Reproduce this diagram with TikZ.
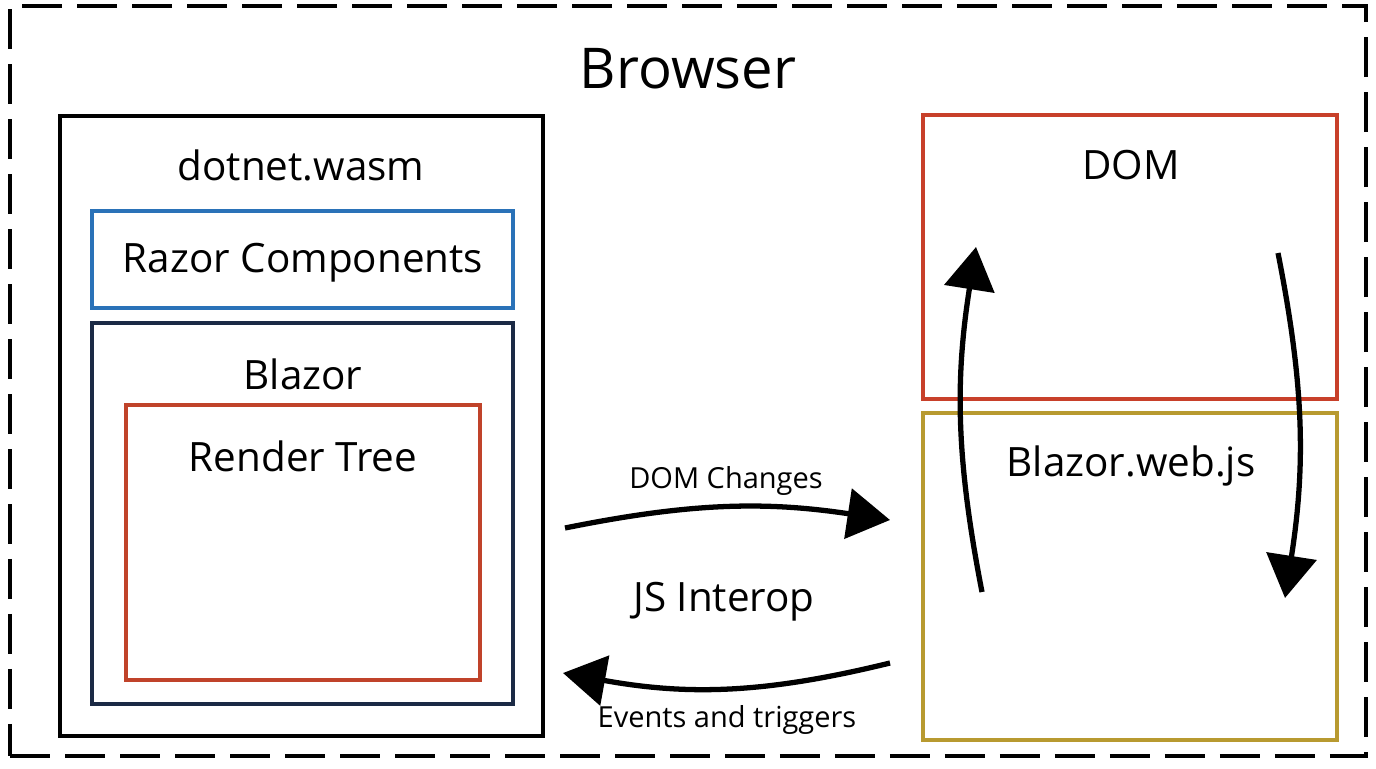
\documentclass[tikz,border=0pt]{standalone}
\usepackage{fontspec}
\setmainfont{Open Sans}
\usetikzlibrary{arrows.meta}

\definecolor{razorblue}{HTML}{2A72B8}
\definecolor{blazornavy}{HTML}{1B2A45}
\definecolor{treered}{HTML}{C0432A}
\definecolor{domred}{HTML}{C8402A}
\definecolor{jsgold}{HTML}{B89A30}

\tikzset{
  box/.style={draw, line width=2pt, inner sep=0pt},
  flow/.style={line width=3pt, -{Triangle[length=0.85cm, width=1cm]}},
  title/.style={font=\fontsize{23}{27}\selectfont},
  small/.style={font=\fontsize{16.5}{20}\selectfont},
}

\begin{document}
\begin{tikzpicture}[x=0.02cm, y=-0.02cm]
  \useasboundingbox (0,0) rectangle (1376,768);

  % browser frame
  \node[box, dash pattern=on 0.8cm off 0.3cm, line width=2.3pt,
        minimum width=27.12cm, minimum height=15cm] (browser) at (688,381) {};
  \node[font=\fontsize{32}{37}\selectfont] (browsertitle) at (688,69) {Browser};

  % left side: dotnet.wasm
  \node[box, line width=2.2pt, minimum width=9.66cm, minimum height=12.4cm] (wasm) at (301.5,426) {};
  \node[title] (wasmtitle) at (301,165) {dotnet.wasm};
  \node[box, draw=razorblue, minimum width=8.42cm, minimum height=1.94cm] (razor) at (302.5,259.5) {};
  \node[title] (razortitle) at (303,263) {Razor Components};
  \node[box, draw=blazornavy, minimum width=8.42cm, minimum height=7.62cm] (blazor) at (302.5,513.5) {};
  \node[title] (blazortitle) at (303,374) {Blazor};
  \node[box, draw=treered, minimum width=7.08cm, minimum height=5.5cm] (tree) at (303,542.5) {};
  \node[title] (treetitle) at (303,456) {Render Tree};

  % right side: DOM and Blazor.web.js
  \node[box, draw=domred, minimum width=8.28cm, minimum height=5.68cm] (dom) at (1130,257) {};
  \node[title] (domtitle) at (1131,165) {DOM};
  \node[box, draw=jsgold, minimum width=8.28cm, minimum height=6.54cm] (webjs) at (1130,576.5) {};
  \node[title] (webjstitle) at (1131,466) {Blazor.web.js};

  % interop arrows
  \coordinate (dc-from) at (565,528);
  \coordinate (dc-to) at (890,520);
  \coordinate (ev-from) at (890,663);
  \coordinate (ev-to) at (563,673);
  \draw[flow] (dc-from) to[bend left=10] (dc-to);
  \draw[flow] (ev-from) to[bend left=12] (ev-to);
  \node[small] (dclabel) at (726,481) {DOM Changes};
  \node[title] (interop) at (724,602) {JS Interop};
  \node[small] (evlabel) at (727,720) {Events and triggers};

  % update loop between DOM and Blazor.web.js
  \coordinate (up-from) at (982,592);
  \coordinate (up-to) at (976,247);
  \coordinate (down-from) at (1278,253);
  \coordinate (down-to) at (1285,598);
  \draw[flow] (up-from) to[bend left=10] (up-to);
  \draw[flow] (down-from) to[bend left=10] (down-to);
\end{tikzpicture}
\end{document}
